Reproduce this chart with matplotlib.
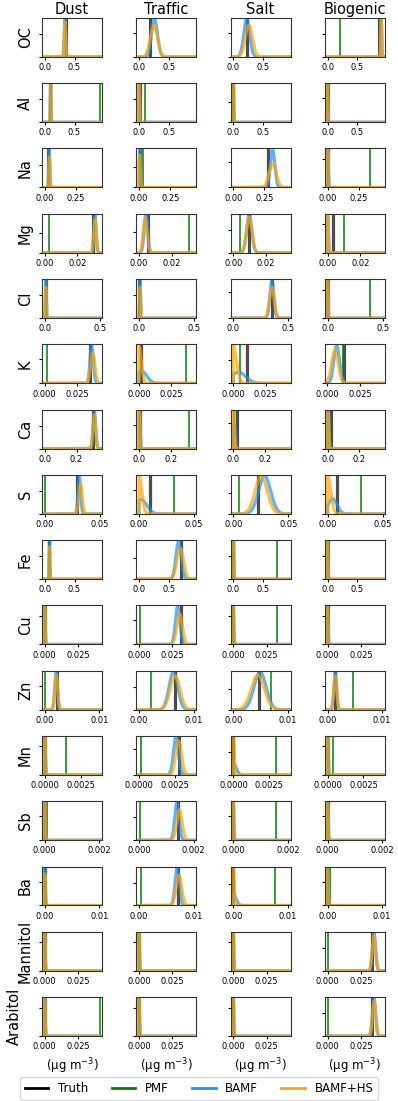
import math
import numpy as np
import matplotlib
matplotlib.use('Agg')
import matplotlib.pyplot as plt
from matplotlib.lines import Line2D
from matplotlib.ticker import MaxNLocator

# Species (rows) and sources (columns)
species = ['OC', 'Al', 'Na', 'Mg', 'Cl', 'K', 'Ca', 'S', 'Fe', 'Cu', 'Zn', 'Mn',
           'Sb', 'Ba', 'Mannitol', 'Arabitol']
sources = ['Dust', 'Traffic', 'Salt', 'Biogenic']

# x range and ticks of each row
x_lims = [(-0.045, 0.96), (-0.045, 0.96), (-0.023, 0.46), (-0.0017, 0.035),
          (-0.025, 0.52), (-0.002, 0.044), (-0.017, 0.36), (-0.0025, 0.052),
          (-0.045, 0.96), (-0.002, 0.043), (-0.0005, 0.0105), (-0.0002, 0.0040),
          (-0.0001, 0.0021), (-0.0005, 0.0105), (-0.002, 0.043), (-0.002, 0.043)]
x_ticks = [[0, 0.5], [0, 0.5], [0, 0.25], [0, 0.02], [0, 0.5], [0, 0.025],
           [0, 0.2], [0, 0.05], [0, 0.5], [0, 0.025], [0, 0.01], [0, 0.0025],
           [0, 0.002], [0, 0.01], [0, 0.025], [0, 0.025]]

nan = np.nan

# True profile values
truth = [[0.35, 0.19, 0.235, 0.86],
         [0.089, 0.01, 0.0, 0.0],
         [0.025, 0.004, 0.277, 0.004],
         [0.0293, 0.0055, 0.0095, 0.003],
         [0.01, 0.0, 0.347, 0.0],
         [0.0348, 0.0018, 0.0105, 0.0126],
         [0.305, 0.004, 0.025, 0.021],
         [0.029, 0.0096, 0.0223, 0.0087],
         [0.078, 0.709, 0.0, 0.003],
         [0.0003, 0.0315, 0.0, 0.0],
         [0.0023, 0.00665, 0.0048, 0.0013],
         [0.0, 0.0028, 0.0, 0.0],
         [0.0, 0.00143, 0.0, 0.0],
         [0.0, 0.0071, 0.0, 0.0],
         [0.0, 0.0, 0.0, 0.033],
         [0.0, 0.0, 0.0, 0.0335]]

# PMF solution (nan = not visible in the panel)
pmf = [[nan, nan, nan, 0.206],
       [0.927, 0.106, 0.005, 0.01],
       [0.028, 0.035, nan, 0.344],
       [0.0028, 0.0303, 0.0042, 0.0101],
       [0.01, 0.01, nan, 0.384],
       [0.0016, 0.036, 0.0055, 0.0116],
       [nan, 0.312, 0.004, 0.004],
       [0.0005, 0.032, 0.005, 0.0302],
       [0.078, nan, 0.737, 0.008],
       [0.0003, 0.001, 0.033, 0.001],
       [0.00005, 0.00225, 0.0070, 0.0047],
       [0.0015, 0.0001, 0.00295, 0.00034],
       [0.0001, 0.00005, 0.00158, 0.00002],
       [0.00005, 0.00036, 0.0077, 0.0004],
       [0.0003, 0.0003, 0.0003, 0.0005],
       [0.0415, 0.0005, 0.0005, 0.0005]]

# BAMF posterior: centre and spread
bamf_mu = [[0.34, 0.26, 0.225, 0.9],
           [0.10, 0.005, 0.003, 0.0],
           [0.036, 0.005, 0.315, 0.0],
           [0.0307, 0.0042, 0.0097, 0.0],
           [0.01, 0.01, 0.35, 0.0],
           [0.0361, 0.002, 0.004, 0.007],
           [0.312, 0.003, 0.005, 0.004],
           [0.0314, 0.002, 0.0284, 0.0045],
           [0.08, 0.664, 0.005, 0.0],
           [0.0, 0.029, 0.0, 0.0],
           [0.0021, 0.0063, 0.0049, 0.0014],
           [0.0, 0.00258, 0.0, 0.0],
           [0.0, 0.00139, 0.0, 0.0],
           [0.0, 0.0070, 0.0, 0.0],
           [0.0, 0.0, 0.0, 0.0348],
           [0.0, 0.0, 0.0, 0.0348]]
bamf_sd = [[0.012, 0.05, 0.05, 0.008],
           [0.006, 0.006, 0.005, 0.005],
           [0.004, 0.004, 0.018, 0.004],
           [0.0007, 0.0011, 0.0016, 0.0004],
           [0.004, 0.004, 0.018, 0.004],
           [0.0013, 0.004, 0.0055, 0.0022],
           [0.008, 0.004, 0.007, 0.004],
           [0.0012, 0.005, 0.0055, 0.004],
           [0.006, 0.045, 0.006, 0.006],
           [0.0004, 0.0017, 0.0004, 0.0004],
           [0.00025, 0.0008, 0.0011, 0.00025],
           [0.00004, 0.00018, 0.0002, 0.00004],
           [0.00002, 0.00008, 0.00002, 0.00002],
           [0.0001, 0.0004, 0.0005, 0.0001],
           [0.0004, 0.0004, 0.0004, 0.0012],
           [0.0004, 0.0004, 0.0004, 0.0012]]

# BAMF+HS posterior: centre and spread
hs_mu = [[0.34, 0.25, 0.26, 0.9],
         [0.10, 0.005, 0.003, 0.0],
         [0.036, 0.005, 0.315, 0.0],
         [0.0308, 0.0037, 0.0097, 0.0],
         [0.01, 0.01, 0.35, 0.0],
         [0.0369, 0.0, 0.0, 0.0057],
         [0.312, 0.003, 0.004, 0.004],
         [0.0325, 0.0, 0.0253, 0.0],
         [0.08, 0.69, 0.005, 0.0],
         [0.0, 0.0305, 0.0, 0.0],
         [0.0021, 0.0066, 0.0045, 0.0014],
         [0.0, 0.00276, 0.0, 0.0],
         [0.0, 0.00148, 0.0, 0.0],
         [0.0, 0.0073, 0.0, 0.0],
         [0.0, 0.0, 0.0, 0.0348],
         [0.0, 0.0, 0.0, 0.035]]
hs_sd = [[0.013, 0.06, 0.06, 0.008],
         [0.006, 0.006, 0.005, 0.005],
         [0.005, 0.005, 0.028, 0.004],
         [0.0008, 0.0012, 0.0017, 0.0004],
         [0.005, 0.005, 0.022, 0.004],
         [0.0016, 0.0018, 0.0025, 0.0025],
         [0.009, 0.004, 0.004, 0.004],
         [0.0015, 0.0025, 0.0055, 0.0028],
         [0.007, 0.055, 0.006, 0.006],
         [0.0004, 0.0021, 0.0004, 0.0004],
         [0.00027, 0.0009, 0.0012, 0.00028],
         [0.00004, 0.0002, 0.00006, 0.00004],
         [0.00002, 0.0001, 0.00002, 0.00002],
         [0.00012, 0.0005, 0.00015, 0.0001],
         [0.0004, 0.0004, 0.0004, 0.0013],
         [0.0004, 0.0004, 0.0004, 0.0013]]

c_truth = 'black'
c_pmf = 'green'
c_bamf = 'dodgerblue'
c_hs = 'orange'


def density(mu, sd, xmax):
    # normal density, truncated at zero (concentrations are non-negative)
    x = np.linspace(0, xmax, 2000)
    mass = 0.5 * (1 + math.erf(mu / (sd * math.sqrt(2))))
    y = np.exp(-0.5 * ((x - mu) / sd) ** 2) / (sd * math.sqrt(2 * math.pi)) / mass
    return np.r_[0, x], np.r_[0, y]


fig, axes = plt.subplots(len(species), len(sources), figsize=(3.98, 11.01), dpi=100)
fig.subplots_adjust(left=0.1055, right=0.967, top=0.9837, bottom=0.059,
                    wspace=0.572, hspace=0.674)

for i, sp in enumerate(species):
    xmin, xmax = x_lims[i]
    for j, src in enumerate(sources):
        ax = axes[i, j]
        ax.axvline(truth[i][j], color=c_truth, lw=2.3, alpha=0.7)
        if not np.isnan(pmf[i][j]):
            ax.axvline(pmf[i][j], color=c_pmf, lw=1.1)
        xb, yb = density(bamf_mu[i][j], bamf_sd[i][j], xmax)
        xh, yh = density(hs_mu[i][j], hs_sd[i][j], xmax)
        ax.plot(xb, yb, color=c_bamf, lw=2.3, alpha=0.7)
        ax.plot(xh, yh, color=c_hs, lw=2.3, alpha=0.7)
        ax.set_xlim(xmin, xmax)
        ax.set_ylim(0, max(yb.max(), yh.max()) * 1.03)
        ax.set_xticks(x_ticks[i])
        ax.yaxis.set_major_locator(MaxNLocator(nbins=2))
        ax.tick_params(labelleft=False, length=2.5, labelsize=6, pad=2)
        for s in ax.spines.values():
            s.set_color('#333333')
        if i == 0:
            ax.set_title(src, fontsize=10.5, pad=3)
        if j == 0:
            # the last row label sits further out in the original
            pad = 12 if i == len(species) - 1 else 4
            ax.set_ylabel(sp, fontsize=10.5, labelpad=pad)
        if i == len(species) - 1:
            ax.set_xlabel(r'($\mathrm{\mu}$g m$^{-3}$)', fontsize=8.5)

handles = [Line2D([], [], color=c_truth, lw=2),
           Line2D([], [], color=c_pmf, lw=2),
           Line2D([], [], color=c_bamf, lw=2),
           Line2D([], [], color=c_hs, lw=2)]
fig.legend(handles, ['Truth', 'PMF', 'BAMF', 'BAMF+HS'], loc='lower center',
           bbox_to_anchor=(0.5, -0.004), ncol=4, fontsize=8.5)

fig.savefig('out.png', dpi=100)
